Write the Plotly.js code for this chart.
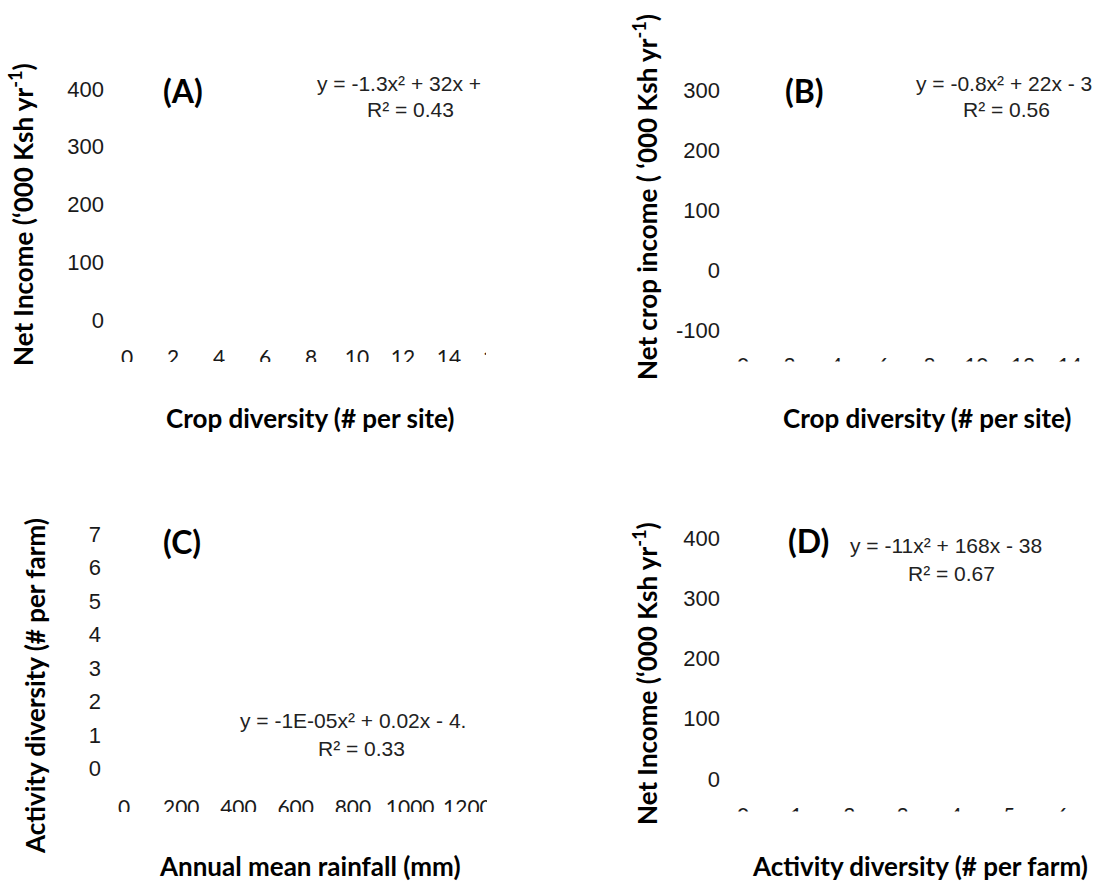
<!DOCTYPE html>
<html>
<head>
<meta charset="utf-8">
<script src="https://cdn.plot.ly/plotly-3.0.1.min.js"></script>
<style>html,body{margin:0;padding:0;background:#fff;}</style>
</head>
<body>
<div id="chart" style="width:1094px;height:882px;"></div>
<script>
// ---------- chart content ----------
const panelLabels = ['(A)', '(B)', '(C)', '(D)'];
const xTitles = ['Crop diversity (# per site)', 'Crop diversity (# per site)',
                 'Annual mean rainfall (mm)', 'Activity diversity (# per farm)'];
const yTitles = ['Net Income (‘000 Ksh yr<sup>-1</sup>)', 'Net crop income ( ‘000 Ksh yr<sup>-1</sup>)',
                 'Activity diversity (# per farm)', 'Net Income (‘000 Ksh yr<sup>-1</sup>)'];
// trend-line equations as printed (cut off at the right in the source figure)
const equations = ['y = -1.3x² + 32x + ', 'y = -0.8x² + 22x - 3',
                   'y = -1E-05x² + 0.02x - 4.', 'y = -11x² + 168x - 38'];
const rSquared = [0.43, 0.56, 0.33, 0.67];
// tick values
const xTickVals = [[0, 2, 4, 6, 8, 10, 12, 14, 16], [0, 2, 4, 6, 8, 10, 12, 14],
                   [0, 200, 400, 600, 800, 1000, 1200], [0, 1, 2, 3, 4, 5, 6]];
const yTickVals = [[0, 100, 200, 300, 400], [-100, 0, 100, 200, 300],
                   [0, 1, 2, 3, 4, 5, 6, 7], [0, 100, 200, 300, 400]];
// axis ranges
const xRanges = [[0, 16], [0, 15], [0, 1300], [0, 6.5]];
const yRanges = [[-46.8, 450.2], [-145, 350], [-0.845, 7.9], [-44.8, 449.8]];

// ---------- layout helpers ----------
const W = 1094, H = 882;
const px = v => v / W;
const py = v => 1 - v / H;

// plot boxes in pixels [left, right, top, bottom]
const boxes = [[127, 495, 60, 347], [743, 1093, 60, 357], [124, 496, 504, 797], [743, 1089, 508, 806]];
const xLabelShift = [-4, -6, -4, -5];

const layout = {
  width: W, height: H,
  margin: {l: 0, r: 0, t: 0, b: 0},
  paper_bgcolor: '#fff', plot_bgcolor: '#fff',
  showlegend: false,
  annotations: [], shapes: []
};
const traces = [];

for (let i = 0; i < 4; i++) {
  const s = i === 0 ? '' : String(i + 1);
  const b = boxes[i];
  layout['xaxis' + s] = {
    domain: [px(b[0]), px(b[1])], range: xRanges[i], anchor: 'y' + s,
    tickmode: 'array', tickvals: xTickVals[i], ticktext: xTickVals[i].map(String),
    showgrid: false, zeroline: false, showline: false, ticks: '',
    ticklabelstandoff: xLabelShift[i],
    tickfont: {family: 'Lato, Carlito, sans-serif', size: 21, color: '#1a1a1a'},
    fixedrange: true
  };
  layout['yaxis' + s] = {
    domain: [py(b[3]), py(b[2])], range: yRanges[i], anchor: 'x' + s,
    tickmode: 'array', tickvals: yTickVals[i], ticktext: yTickVals[i].map(String),
    showgrid: false, zeroline: false, showline: false, ticks: '',
    ticklabelstandoff: 22,
    tickfont: {family: '"Liberation Sans", Arial, sans-serif', size: 22, color: '#1a1a1a'},
    fixedrange: true
  };
  traces.push({type: 'scatter', mode: 'markers', x: [], y: [], xaxis: 'x' + s, yaxis: 'y' + s,
               hoverinfo: 'skip'});
}

// text positions (pixels)
const labelPos = [[183, 90], [804, 90], [182, 541], [808, 540]];
const eqPos = [[315, 83], [914, 83], [238, 720], [848, 545]];
const r2Pos = [[410, 110], [1006, 110], [361, 748], [951, 573]];
const xTitlePos = [[310, 418], [928, 418], [310, 866], [920, 866]];
const yTitlePos = [[22, 215], [645, 197], [35, 686], [645, 674]];

const ann = (text, x, y, opts) => Object.assign({
  text: text, x: px(x), y: py(y), xref: 'paper', yref: 'paper',
  showarrow: false, xanchor: 'center', yanchor: 'middle'
}, opts);

const eqFont = {family: '"Liberation Sans", Arial, sans-serif', size: 21, color: '#222'};
const titleFont = {family: 'Lato, sans-serif', size: 26, color: '#000', weight: 'bold'};

for (let i = 0; i < 4; i++) {
  layout.annotations.push(ann(panelLabels[i], labelPos[i][0], labelPos[i][1],
    {font: {family: 'Lato, sans-serif', size: 32, color: '#000', weight: 'bold'}}));
  layout.annotations.push(ann(equations[i], eqPos[i][0], eqPos[i][1], {xanchor: 'left', font: eqFont}));
  layout.annotations.push(ann('R² = ' + rSquared[i].toFixed(2), r2Pos[i][0], r2Pos[i][1], {font: eqFont}));
  layout.annotations.push(ann(xTitles[i], xTitlePos[i][0], xTitlePos[i][1], {font: titleFont}));
  layout.annotations.push(ann(yTitles[i], yTitlePos[i][0], yTitlePos[i][1], {textangle: -90, font: titleFont}));
}

// white masks reproducing the cropped tick labels of the source figure
const masks = [[100, 530, 362, 395], [486, 530, 330, 395], [725, 1094, 361.5, 395],
               [100, 530, 812, 845], [487, 530, 785, 845], [725, 1094, 811.5, 845]];
masks.forEach(m => layout.shapes.push({
  type: 'rect', xref: 'paper', yref: 'paper', layer: 'above',
  x0: px(m[0]), x1: px(m[1]), y0: py(m[3]), y1: py(m[2]),
  fillcolor: '#fff', line: {width: 0}
}));

Plotly.newPlot('chart', traces, layout, {staticPlot: true, displayModeBar: false});
</script>
</body>
</html>
